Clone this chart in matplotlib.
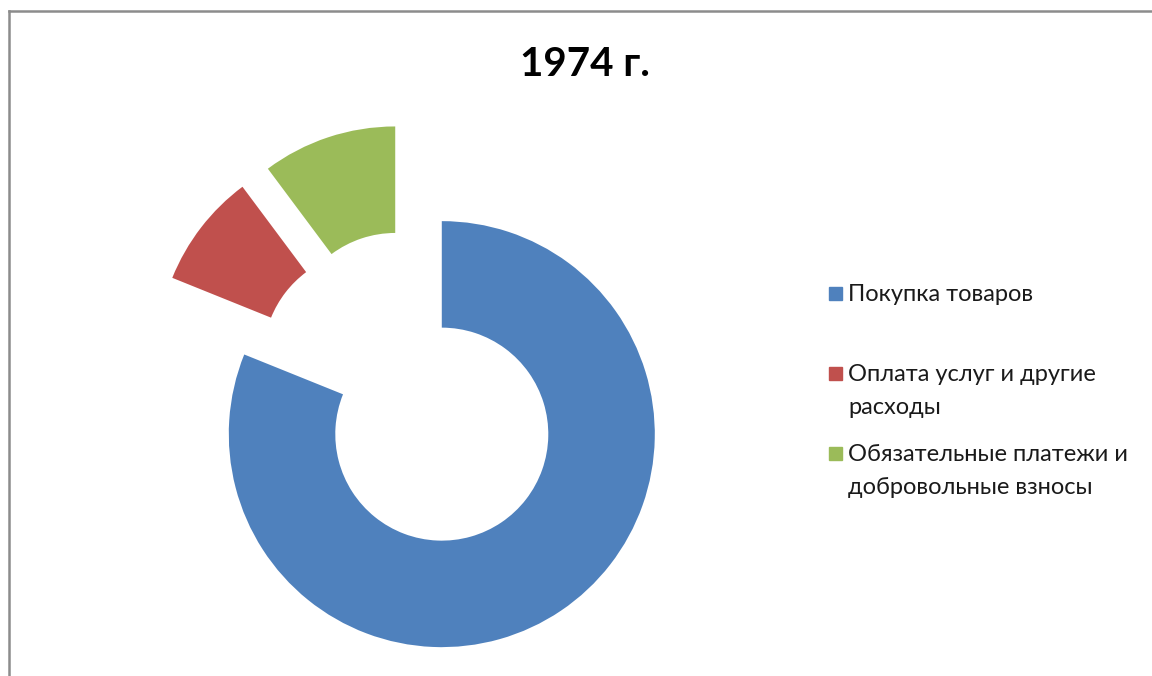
import matplotlib
matplotlib.use("Agg")
from matplotlib import pyplot as plt
from matplotlib.patches import Rectangle
from matplotlib.lines import Line2D

plt.rcParams['font.family'] = ['Lato', 'DejaVu Sans']

labels = ["Покупка товаров", "Оплата услуг и другие\nрасходы", "Обязательные платежи и\nдобровольные взносы"]
values = [81.1, 8.7, 10.2]
colors = ["#4F81BD", "#C0504D", "#9BBB59"]
title = "1974 г."

W, H = 1152, 676
fig = plt.figure(figsize=(W / 100, H / 100), dpi=100)
ax = fig.add_axes([0, 0, 1, 1])

ax.pie(values, colors=colors, startangle=90, counterclock=False,
       explode=[0.25] * len(values), radius=1,
       wedgeprops=dict(width=0.5, linewidth=0))

# 1 data unit = 213 px, pie centre at pixel (412, 390)
s, cx, cy = 213.0, 412.0, 390.0
ax.set_xlim(-cx / s, (W - cx) / s)
ax.set_ylim((cy - H) / s, cy / s)
ax.set_aspect('auto')
ax.axis('off')

fig.text(585 / W, 1 - 65 / H, title, ha='center', va='center',
         fontsize=29, fontweight='bold', color='black')

# legend drawn by hand (Excel-like spacing), one text per line
baselines = [301, 381, 461]
line_h = 33
for lab, col, y in zip(labels, colors, baselines):
    fig.patches.append(Rectangle((829 / W, 1 - (y - 1) / H), 13 / W, 13 / H,
                                 transform=fig.transFigure, color=col))
    for i, part in enumerate(lab.split("\n")):
        fig.text(848 / W, 1 - (y + i * line_h) / H, part, ha='left', va='baseline',
                 fontsize=17, color='#1A1A1A')

# chart border
fig.add_artist(Line2D([9 / W, 9 / W], [0, 1 - 11 / H], color='#8C8C8C', lw=1.8,
                      transform=fig.transFigure))
fig.add_artist(Line2D([9 / W, 1], [1 - 11 / H, 1 - 11 / H], color='#8C8C8C', lw=1.8,
                      transform=fig.transFigure))

fig.savefig("out.png", dpi=100, facecolor='white')
